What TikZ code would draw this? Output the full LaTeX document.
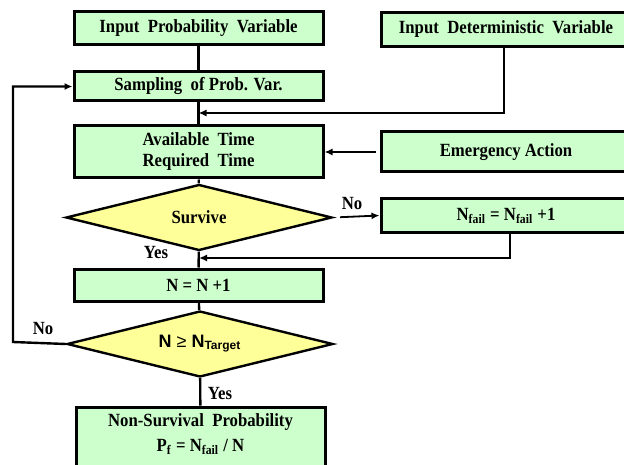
\documentclass[tikz,border=0pt]{standalone}
\usepackage{fontspec}
\setmainfont{Liberation Serif}[FakeStretch=0.9]
\newfontfamily\arialfont{Liberation Sans}
\usetikzlibrary{shapes.geometric,arrows.meta}
\definecolor{boxgreen}{RGB}{204,255,204}
\definecolor{decyellow}{RGB}{255,255,153}

\begin{document}
\begin{tikzpicture}[x=0.5pt,y=-0.5pt,font=\fontsize{9.3}{10.5}\selectfont\bfseries]
\useasboundingbox (0,0) rectangle (624,464);
\clip (0,0) rectangle (624,464);
\tikzset{StepBox/.style ={draw, line width=1.5pt, fill=boxgreen, inner sep=0pt,
  minimum width=124.5pt, align=center}}
\tikzset{DecBox/.style ={draw, shape=diamond, line width=1.2pt, fill=decyellow,
  inner sep=0pt, aspect=4, minimum width=133pt, minimum height=33pt}}
\tikzset{Link/.style ={line width=1.2pt}}
\tikzset{Flow/.style ={line width=1.2pt, -{Latex[length=4pt,width=3.5pt]}}}
% left column
\node[StepBox, minimum height=16.5pt] (ipv) at (198.5,28.5) {Input\ \ Probability\ \ Variable};
\node[StepBox, minimum height=14.5pt] (samp) at (198.5,86.5) {Sampling\ \ of Prob. Var.};
\node[StepBox, minimum height=26pt] (avail) at (198.5,152) {Available\ \ Time\\Required\ \ Time};
\node[DecBox] (surv) at (199,217.5) {Survive};
\node[StepBox, minimum height=16pt] (nbox) at (198.5,285) {N = N +1};
\node[DecBox] (target) at (200,344) {\arialfont\fontsize{9}{10}\selectfont N {\mdseries ≥} N\textsubscript{Target}};
\node[StepBox, minimum height=31.5pt] (final) at (200.5,438.5)
  {Non-Survival\ \ Probability\\[2pt]P\textsubscript{f} = N\textsubscript{fail} / N\rule[-6pt]{0pt}{6pt}};
% right column
\node[StepBox, minimum width=125pt, minimum height=17pt] (idv) at (506,29.5) {Input\ \ Deterministic\ \ Variable};
\node[StepBox, minimum width=125pt, minimum height=20pt] (emerg) at (506,152) {Emergency Action};
\node[StepBox, minimum width=125pt, minimum height=16.5pt] (nfail) at (506,215.5) {N\textsubscript{fail} = N\textsubscript{fail} +1};
% labels
\node (no1) at (352,204) {No};
\node (yes1) at (156,253) {Yes};
\node (no2) at (43,328) {No};
\node (yes2) at (220,393) {Yes};
% joints
\coordinate (m1) at (198.5,113);
\coordinate (m2) at (199,258);
\coordinate (back) at (13,342);
% connectors
\draw[Link] (ipv) -- (samp);
\draw[Link] (samp) -- (avail);
\draw[Link] (avail) -- (surv);
\draw[Link] (surv) -- (nbox);
\draw[Link] (nbox) -- (target);
\draw[Link] (target) -- (final);
\draw[Flow] (idv.south -| 504,0) |- (m1);
\draw[Flow, line width=0.9pt, shorten <=2pt] (emerg.west) -- (avail.east);
\draw[Flow, line width=0.9pt, shorten <=3.5pt] (surv.east) -- (nfail.west);
\draw[Flow] (nfail.south -| 510,0) |- (m2);
\draw[Flow] (target.west) -- (back) |- (samp.west);
\end{tikzpicture}
\end{document}
